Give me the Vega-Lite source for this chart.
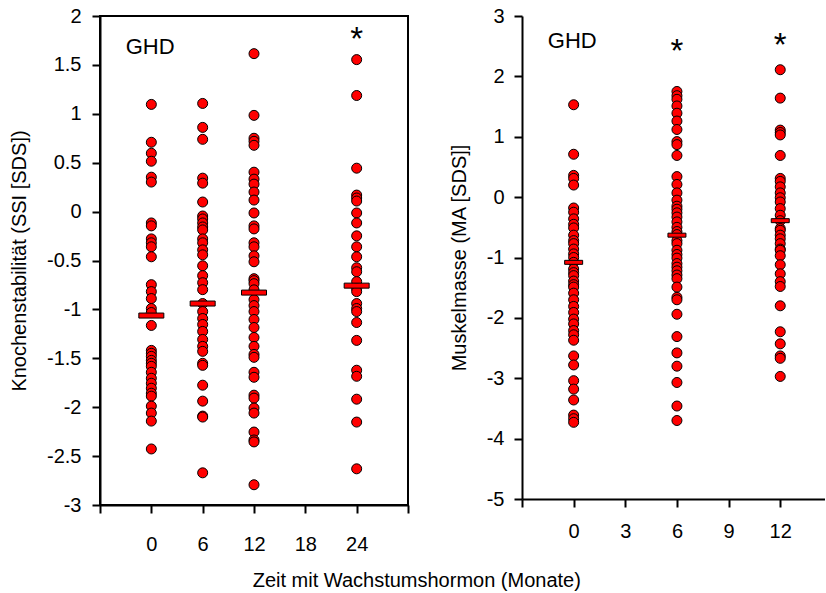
{
  "$schema": "https://vega.github.io/schema/vega-lite/v6.json",
  "padding": {"left": 8, "top": 5, "right": 0, "bottom": 4},
  "spacing": 39,
  "title": {"text": "Zeit mit Wachstumshormon (Monate)", "orient": "bottom", "anchor": "middle", "font": "Liberation Sans", "fontSize": 20, "fontWeight": "normal", "color": "black", "offset": 16},
  "config": {
    "font": "Liberation Sans",
    "view": {"stroke": null},
    "axis": {"grid": false, "domainColor": "black", "domainWidth": 2, "tickColor": "black", "tickWidth": 2, "tickSize": 8, "labelFont": "Liberation Sans", "labelFontSize": 20, "labelColor": "black", "titleFont": "Liberation Sans", "titleFontSize": 20, "titleFontWeight": "normal", "titleColor": "black", "labelPadding": 8}
  },
  "datasets": {
    "ssi": [
      {"t": 0, "v": 1.096}, {"t": 0, "v": 0.709}, {"t": 0, "v": 0.597}, {"t": 0, "v": 0.515}, {"t": 0, "v": 0.352}, {"t": 0, "v": 0.302}, {"t": 0, "v": -0.116}, {"t": 0, "v": -0.146}, {"t": 0, "v": -0.279}, {"t": 0, "v": -0.319}, {"t": 0, "v": -0.36}, {"t": 0, "v": -0.462}, {"t": 0, "v": -0.747}, {"t": 0, "v": -0.818}, {"t": 0, "v": -0.889}, {"t": 0, "v": -0.991}, {"t": 0, "v": -1.032}, {"t": 0, "v": -1.164}, {"t": 0, "v": -1.419}, {"t": 0, "v": -1.449}, {"t": 0, "v": -1.48}, {"t": 0, "v": -1.521}, {"t": 0, "v": -1.551}, {"t": 0, "v": -1.582}, {"t": 0, "v": -1.643}, {"t": 0, "v": -1.704}, {"t": 0, "v": -1.755}, {"t": 0, "v": -1.806}, {"t": 0, "v": -1.857}, {"t": 0, "v": -1.887}, {"t": 0, "v": -1.989}, {"t": 0, "v": -2.06}, {"t": 0, "v": -2.142}, {"t": 0, "v": -2.427},
      {"t": 6, "v": 1.106}, {"t": 6, "v": 0.861}, {"t": 6, "v": 0.739}, {"t": 6, "v": 0.342}, {"t": 6, "v": 0.291}, {"t": 6, "v": 0.098}, {"t": 6, "v": -0.045}, {"t": 6, "v": -0.075}, {"t": 6, "v": -0.116}, {"t": 6, "v": -0.157}, {"t": 6, "v": -0.187}, {"t": 6, "v": -0.279}, {"t": 6, "v": -0.319}, {"t": 6, "v": -0.391}, {"t": 6, "v": -0.442}, {"t": 6, "v": -0.554}, {"t": 6, "v": -0.655}, {"t": 6, "v": -0.727}, {"t": 6, "v": -0.798}, {"t": 6, "v": -0.94}, {"t": 6, "v": -1.022}, {"t": 6, "v": -1.093}, {"t": 6, "v": -1.154}, {"t": 6, "v": -1.225}, {"t": 6, "v": -1.307}, {"t": 6, "v": -1.378}, {"t": 6, "v": -1.429}, {"t": 6, "v": -1.551}, {"t": 6, "v": -1.572}, {"t": 6, "v": -1.775}, {"t": 6, "v": -1.938}, {"t": 6, "v": -2.091}, {"t": 6, "v": -2.101}, {"t": 6, "v": -2.671},
      {"t": 12, "v": 1.615}, {"t": 12, "v": 0.984}, {"t": 12, "v": 0.75}, {"t": 12, "v": 0.719}, {"t": 12, "v": 0.678}, {"t": 12, "v": 0.403}, {"t": 12, "v": 0.332}, {"t": 12, "v": 0.281}, {"t": 12, "v": 0.2}, {"t": 12, "v": 0.118}, {"t": 12, "v": -0.014}, {"t": 12, "v": -0.146}, {"t": 12, "v": -0.177}, {"t": 12, "v": -0.319}, {"t": 12, "v": -0.36}, {"t": 12, "v": -0.452}, {"t": 12, "v": -0.513}, {"t": 12, "v": -0.686}, {"t": 12, "v": -0.706}, {"t": 12, "v": -0.737}, {"t": 12, "v": -0.8}, {"t": 12, "v": -0.9}, {"t": 12, "v": -0.961}, {"t": 12, "v": -1.022}, {"t": 12, "v": -1.103}, {"t": 12, "v": -1.185}, {"t": 12, "v": -1.287}, {"t": 12, "v": -1.378}, {"t": 12, "v": -1.46}, {"t": 12, "v": -1.49}, {"t": 12, "v": -1.643}, {"t": 12, "v": -1.694}, {"t": 12, "v": -1.877}, {"t": 12, "v": -1.907}, {"t": 12, "v": -2.009}, {"t": 12, "v": -2.06}, {"t": 12, "v": -2.254}, {"t": 12, "v": -2.335}, {"t": 12, "v": -2.355}, {"t": 12, "v": -2.793},
      {"t": 24, "v": 1.554}, {"t": 24, "v": 1.187}, {"t": 24, "v": 0.444}, {"t": 24, "v": 0.169}, {"t": 24, "v": 0.139}, {"t": 24, "v": 0.108}, {"t": 24, "v": -0.014}, {"t": 24, "v": -0.116}, {"t": 24, "v": -0.248}, {"t": 24, "v": -0.36}, {"t": 24, "v": -0.462}, {"t": 24, "v": -0.574}, {"t": 24, "v": -0.615}, {"t": 24, "v": -0.716}, {"t": 24, "v": -0.788}, {"t": 24, "v": -0.818}, {"t": 24, "v": -0.94}, {"t": 24, "v": -0.991}, {"t": 24, "v": -1.022}, {"t": 24, "v": -1.134}, {"t": 24, "v": -1.317}, {"t": 24, "v": -1.622}, {"t": 24, "v": -1.684}, {"t": 24, "v": -1.918}, {"t": 24, "v": -2.152}, {"t": 24, "v": -2.63}
    ],
    "ssimean": [{"t": 0, "v": -1.063}, {"t": 6, "v": -0.94}, {"t": 12, "v": -0.828}, {"t": 24, "v": -0.757}],
    "ssinote": [{"t": -3, "v": 1.68, "label": "GHD"}],
    "ssistar": [{"t": 24, "v": 1.806, "label": "*"}],
    "ma": [
      {"t": 0, "v": 1.53}, {"t": 0, "v": 0.71}, {"t": 0, "v": 0.36}, {"t": 0, "v": 0.31}, {"t": 0, "v": 0.2}, {"t": 0, "v": -0.18}, {"t": 0, "v": -0.25}, {"t": 0, "v": -0.36}, {"t": 0, "v": -0.45}, {"t": 0, "v": -0.51}, {"t": 0, "v": -0.63}, {"t": 0, "v": -0.72}, {"t": 0, "v": -0.77}, {"t": 0, "v": -0.86}, {"t": 0, "v": -0.94}, {"t": 0, "v": -1.0}, {"t": 0, "v": -1.08}, {"t": 0, "v": -1.19}, {"t": 0, "v": -1.25}, {"t": 0, "v": -1.3}, {"t": 0, "v": -1.39}, {"t": 0, "v": -1.45}, {"t": 0, "v": -1.49}, {"t": 0, "v": -1.59}, {"t": 0, "v": -1.7}, {"t": 0, "v": -1.81}, {"t": 0, "v": -1.91}, {"t": 0, "v": -2.02}, {"t": 0, "v": -2.1}, {"t": 0, "v": -2.21}, {"t": 0, "v": -2.28}, {"t": 0, "v": -2.37}, {"t": 0, "v": -2.63}, {"t": 0, "v": -2.78}, {"t": 0, "v": -3.04}, {"t": 0, "v": -3.18}, {"t": 0, "v": -3.36}, {"t": 0, "v": -3.61}, {"t": 0, "v": -3.67}, {"t": 0, "v": -3.73},
      {"t": 6, "v": 1.75}, {"t": 6, "v": 1.68}, {"t": 6, "v": 1.62}, {"t": 6, "v": 1.51}, {"t": 6, "v": 1.39}, {"t": 6, "v": 1.26}, {"t": 6, "v": 1.12}, {"t": 6, "v": 0.92}, {"t": 6, "v": 0.87}, {"t": 6, "v": 0.69}, {"t": 6, "v": 0.34}, {"t": 6, "v": 0.21}, {"t": 6, "v": 0.07}, {"t": 6, "v": -0.05}, {"t": 6, "v": -0.15}, {"t": 6, "v": -0.2}, {"t": 6, "v": -0.26}, {"t": 6, "v": -0.33}, {"t": 6, "v": -0.41}, {"t": 6, "v": -0.5}, {"t": 6, "v": -0.57}, {"t": 6, "v": -0.62}, {"t": 6, "v": -0.72}, {"t": 6, "v": -0.77}, {"t": 6, "v": -0.88}, {"t": 6, "v": -0.95}, {"t": 6, "v": -1.01}, {"t": 6, "v": -1.1}, {"t": 6, "v": -1.16}, {"t": 6, "v": -1.22}, {"t": 6, "v": -1.29}, {"t": 6, "v": -1.35}, {"t": 6, "v": -1.49}, {"t": 6, "v": -1.66}, {"t": 6, "v": -1.7}, {"t": 6, "v": -1.94}, {"t": 6, "v": -2.31}, {"t": 6, "v": -2.58}, {"t": 6, "v": -2.8}, {"t": 6, "v": -3.07}, {"t": 6, "v": -3.46}, {"t": 6, "v": -3.7},
      {"t": 12, "v": 2.11}, {"t": 12, "v": 1.64}, {"t": 12, "v": 1.11}, {"t": 12, "v": 1.07}, {"t": 12, "v": 1.03}, {"t": 12, "v": 0.69}, {"t": 12, "v": 0.31}, {"t": 12, "v": 0.26}, {"t": 12, "v": 0.17}, {"t": 12, "v": 0.07}, {"t": 12, "v": -0.01}, {"t": 12, "v": -0.08}, {"t": 12, "v": -0.19}, {"t": 12, "v": -0.3}, {"t": 12, "v": -0.39}, {"t": 12, "v": -0.52}, {"t": 12, "v": -0.55}, {"t": 12, "v": -0.63}, {"t": 12, "v": -0.69}, {"t": 12, "v": -0.77}, {"t": 12, "v": -0.86}, {"t": 12, "v": -0.88}, {"t": 12, "v": -0.97}, {"t": 12, "v": -1.12}, {"t": 12, "v": -1.27}, {"t": 12, "v": -1.4}, {"t": 12, "v": -1.48}, {"t": 12, "v": -1.8}, {"t": 12, "v": -2.23}, {"t": 12, "v": -2.43}, {"t": 12, "v": -2.63}, {"t": 12, "v": -2.67}, {"t": 12, "v": -2.97}
    ],
    "mamean": [{"t": 0, "v": -1.08}, {"t": 6, "v": -0.63}, {"t": 12, "v": -0.39}],
    "manote": [{"t": -1.5, "v": 2.58, "label": "GHD"}],
    "mastar": [{"t": 6, "v": 2.48, "label": "*"}, {"t": 12, "v": 2.58, "label": "*"}]
  },
  "hconcat": [
    {
      "width": 308,
      "height": 489,
      "view": {"stroke": "black", "strokeWidth": 2},
      "layer": [
        {
          "data": {"name": "ssi"},
          "mark": {"type": "circle", "size": 100, "fill": "#ff0000", "stroke": "black", "strokeWidth": 1, "opacity": 1},
          "encoding": {
            "x": {"field": "t", "type": "quantitative", "scale": {"domain": [-6, 30], "nice": false, "zero": false},
                  "axis": {"title": null, "values": [-6, 0, 6, 12, 18, 24, 30], "labelExpr": "datum.value < 0 || datum.value > 24 ? '' : '' + datum.value", "labelPadding": 21}},
            "y": {"field": "v", "type": "quantitative", "scale": {"domain": [-3, 2], "nice": false, "zero": false},
                  "axis": {"title": "Knochenstabilität (SSI [SDS])", "values": [-3, -2.5, -2, -1.5, -1, -0.5, 0, 0.5, 1, 1.5, 2], "labelExpr": "'' + datum.value", "labelPadding": 11, "titlePadding": 17}}
          }
        },
        {
          "data": {"name": "ssimean"},
          "mark": {"type": "tick", "orient": "horizontal", "size": 25, "thickness": 5, "fill": "#ff0000", "stroke": "black", "strokeWidth": 1, "opacity": 1},
          "encoding": {"x": {"field": "t", "type": "quantitative"}, "y": {"field": "v", "type": "quantitative"}}
        },
        {
          "data": {"name": "ssinote"},
          "mark": {"type": "text", "align": "left", "baseline": "middle", "fontSize": 22, "color": "black", "font": "Liberation Sans"},
          "encoding": {"x": {"field": "t", "type": "quantitative"}, "y": {"field": "v", "type": "quantitative"}, "text": {"field": "label"}}
        },
        {
          "data": {"name": "ssistar"},
          "mark": {"type": "text", "align": "center", "baseline": "alphabetic", "dy": 15, "fontSize": 33, "color": "black", "font": "Liberation Sans"},
          "encoding": {"x": {"field": "t", "type": "quantitative"}, "y": {"field": "v", "type": "quantitative"}, "text": {"field": "label"}}
        }
      ]
    },
    {
      "width": 303,
      "height": 483,
      "layer": [
        {
          "data": {"name": "ma"},
          "mark": {"type": "circle", "size": 100, "fill": "#ff0000", "stroke": "black", "strokeWidth": 1, "opacity": 1},
          "encoding": {
            "x": {"field": "t", "type": "quantitative", "scale": {"domain": [-3, 14.6], "nice": false, "zero": false},
                  "axis": {"title": null, "values": [-3, 0, 3, 6, 9, 12], "labelExpr": "datum.value < 0 ? '' : '' + datum.value", "labelPadding": 14}},
            "y": {"field": "v", "type": "quantitative", "scale": {"domain": [-5, 3], "nice": false, "zero": false},
                  "axis": {"title": "Muskelmasse (MA [SDS]]", "values": [-5, -4, -3, -2, -1, 0, 1, 2, 3], "labelExpr": "'' + datum.value", "labelPadding": 10, "titlePadding": 17}}
          }
        },
        {
          "data": {"name": "mamean"},
          "mark": {"type": "tick", "orient": "horizontal", "size": 18, "thickness": 4, "fill": "#ff0000", "stroke": "black", "strokeWidth": 1, "opacity": 1},
          "encoding": {"x": {"field": "t", "type": "quantitative"}, "y": {"field": "v", "type": "quantitative"}}
        },
        {
          "data": {"name": "manote"},
          "mark": {"type": "text", "align": "left", "baseline": "middle", "fontSize": 22, "color": "black", "font": "Liberation Sans"},
          "encoding": {"x": {"field": "t", "type": "quantitative"}, "y": {"field": "v", "type": "quantitative"}, "text": {"field": "label"}}
        },
        {
          "data": {"name": "mastar"},
          "mark": {"type": "text", "align": "center", "baseline": "alphabetic", "dy": 15, "fontSize": 33, "color": "black", "font": "Liberation Sans"},
          "encoding": {"x": {"field": "t", "type": "quantitative"}, "y": {"field": "v", "type": "quantitative"}, "text": {"field": "label"}}
        },
        {
          "mark": {"type": "rule", "color": "black", "strokeWidth": 2},
          "encoding": {"y": {"datum": 3}}
        }
      ]
    }
  ]
}
